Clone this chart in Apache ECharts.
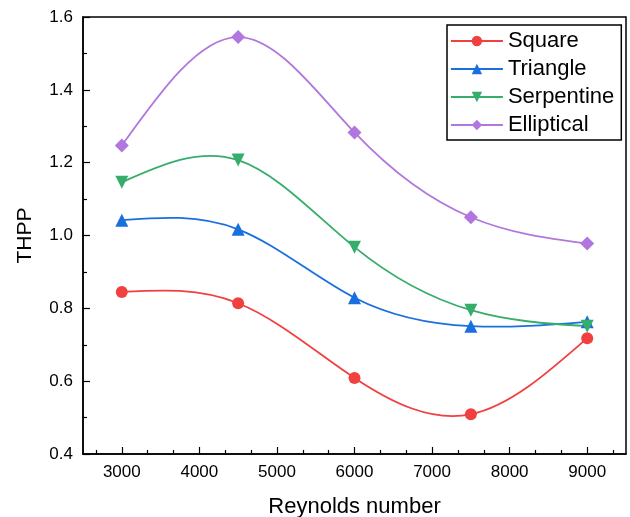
<!DOCTYPE html>
<html>
<head>
<meta charset="utf-8">
<script src="https://cdn.jsdelivr.net/npm/echarts@6/dist/echarts.min.js"></script>
<style>
  html, body { margin: 0; padding: 0; background: #fff; overflow: hidden; }
  #container { width: 630px; height: 517px; }
</style>
</head>
<body>
<div id="container"></div>
<script>
// Reynolds number values (x) and THPP per channel shape
var reynolds = [3000, 4500, 6000, 7500, 9000];
var square = [0.845, 0.814, 0.609, 0.509, 0.718];
var triangle = [1.042, 1.017, 0.829, 0.751, 0.763];
var serpentine = [1.146, 1.207, 0.968, 0.795, 0.751];
var elliptical = [1.247, 1.545, 1.283, 1.050, 0.978];
var xTickLabels = [3000, 4000, 5000, 6000, 7000, 8000, 9000];
var xMinorTicks = [2667, 3333, 3667, 4333, 4667, 5333, 5667, 6333, 6667, 7333, 7667, 8333, 8667, 9333];

var dom = document.getElementById("container");
var myChart = echarts.init(dom, null, { renderer: 'canvas' });

var font = 'Liberation Sans, Arial, Helvetica, sans-serif';

var pairs = function (ys) {
    return reynolds.map(function (x, i) { return [x, ys[i]]; });
};

// slopes of a natural cubic spline through the points (like Origin's spline connection)
var splineSlopes = function (xs, ys) {
    var n = xs.length - 1, h = [], i;
    for (i = 0; i < n; i++) h.push(xs[i + 1] - xs[i]);
    var a = [], b = [], c = [], d = [];
    for (i = 0; i <= n; i++) {
        if (i === 0 || i === n) { a.push(0); b.push(1); c.push(0); d.push(0); continue; }
        a.push(h[i - 1]);
        b.push(2 * (h[i - 1] + h[i]));
        c.push(h[i]);
        d.push(6 * ((ys[i + 1] - ys[i]) / h[i] - (ys[i] - ys[i - 1]) / h[i - 1]));
    }
    // thomas algorithm
    for (i = 1; i <= n; i++) {
        var w = a[i] / b[i - 1];
        b[i] -= w * c[i - 1];
        d[i] -= w * d[i - 1];
    }
    var M = new Array(n + 1);
    M[n] = d[n] / b[n];
    for (i = n - 1; i >= 0; i--) M[i] = (d[i] - c[i] * M[i + 1]) / b[i];
    var m = [];
    for (i = 0; i < n; i++) m.push((ys[i + 1] - ys[i]) / h[i] - h[i] * (2 * M[i] + M[i + 1]) / 6);
    m.push((ys[n] - ys[n - 1]) / h[n - 1] + h[n - 1] * (M[n - 1] + 2 * M[n]) / 6);
    return m;
};

// spline curve drawn segment by segment through the axis scales
var makeCurve = function (ys, color) {
    var slopes = splineSlopes(reynolds, ys);
    return {
        type: 'custom',
        xAxisIndex: 0,
        z: 1,
        silent: true,
        data: pairs(ys).slice(0, -1),
        renderItem: function (params, api) {
            var i = params.dataIndex;
            var x0 = reynolds[i], x1 = reynolds[i + 1], h = x1 - x0;
            var p0 = api.coord([x0, ys[i]]);
            var p1 = api.coord([x1, ys[i + 1]]);
            var c0 = api.coord([x0 + h / 3, ys[i] + slopes[i] * h / 3]);
            var c1 = api.coord([x1 - h / 3, ys[i + 1] - slopes[i + 1] * h / 3]);
            return {
                type: 'bezierCurve',
                shape: {
                    x1: p0[0], y1: p0[1], x2: p1[0], y2: p1[1],
                    cpx1: c0[0], cpy1: c0[1], cpx2: c1[0], cpy2: c1[1]
                },
                style: { stroke: color, lineWidth: 1.8, fill: null }
            };
        }
    };
};

var makeMarks = function (name, ys, color, symbol, size, rotate) {
    return {
        name: name,
        type: 'line',
        xAxisIndex: 0,
        z: 3,
        data: pairs(ys),
        symbol: symbol,
        symbolSize: size,
        symbolRotate: rotate || 0,
        showAllSymbol: true,
        lineStyle: { color: color, width: 0, opacity: 0 },
        itemStyle: { color: color },
        emphasis: { disabled: true }
    };
};

var option = {
    animation: false,
    backgroundColor: '#fff',
    textStyle: { fontFamily: font, color: '#000' },
    grid: {
        left: 83, right: 4, top: 17, bottom: 63,
        outerBoundsMode: 'none',
        containLabel: false,
        show: true, borderColor: '#000', borderWidth: 1.5,
        backgroundColor: 'transparent'
    },
    legend: {
        orient: 'vertical',
        left: 447, top: 25,
        padding: [5, 7, 4, 3],
        itemGap: 6,
        itemWidth: 52,
        itemHeight: 13,
        borderColor: '#000',
        borderWidth: 1.5,
        lineStyle: { width: 1.8, opacity: 1 },
        textStyle: { fontSize: 22, color: '#000', fontFamily: font, lineHeight: 22 },
        data: ['Square', 'Triangle', 'Serpentine', 'Elliptical']
    },
    xAxis: [{
        type: 'value',
        min: 2500, max: 9500,
        name: 'Reynolds number',
        nameLocation: 'middle',
        nameGap: 42,
        nameTextStyle: { fontSize: 22, color: '#000', verticalAlign: 'top' },
        axisLine: { lineStyle: { color: '#000', width: 1.5 } },
        axisTick: { inside: true, length: 7, customValues: xTickLabels, lineStyle: { color: '#000', width: 1.2 } },
        axisLabel: {
            customValues: xTickLabels, fontSize: 17, color: '#000', margin: 10,
            formatter: function (v) { return String(v); }
        },
        splitLine: { show: false }
    }, {
        type: 'value',
        position: 'bottom',
        min: 2500, max: 9500,
        axisLine: { show: false },
        axisTick: { inside: true, length: 4, customValues: xMinorTicks, lineStyle: { color: '#000', width: 1.2 } },
        axisLabel: { show: false },
        splitLine: { show: false }
    }],
    yAxis: {
        type: 'value',
        min: 0.4, max: 1.6, interval: 0.2,
        name: 'THPP',
        nameLocation: 'middle',
        nameGap: 47,
        nameTextStyle: { fontSize: 21, color: '#000' },
        axisLine: { show: true, lineStyle: { color: '#000', width: 1.5 } },
        axisTick: { show: true, inside: true, length: 7, lineStyle: { color: '#000', width: 1.2 } },
        minorTick: { show: true, splitNumber: 2, length: 4, lineStyle: { color: '#000', width: 1.2 } },
        axisLabel: {
            fontSize: 17, color: '#000', margin: 10,
            formatter: function (v) { return v.toFixed(1); }
        },
        splitLine: { show: false },
        minorSplitLine: { show: false }
    },
    series: [
        makeCurve(square, '#F14040'),
        makeCurve(triangle, '#1A6FDF'),
        makeCurve(serpentine, '#37AD6B'),
        makeCurve(elliptical, '#B177DE'),
        makeMarks('Square', square, '#F14040', 'circle', 12),
        makeMarks('Triangle', triangle, '#1A6FDF', 'triangle', 13),
        makeMarks('Serpentine', serpentine, '#37AD6B', 'triangle', 13, 180),
        makeMarks('Elliptical', elliptical, '#B177DE', 'diamond', 14)
    ]
};
myChart.setOption(option, true);
</script>
</body>
</html>
